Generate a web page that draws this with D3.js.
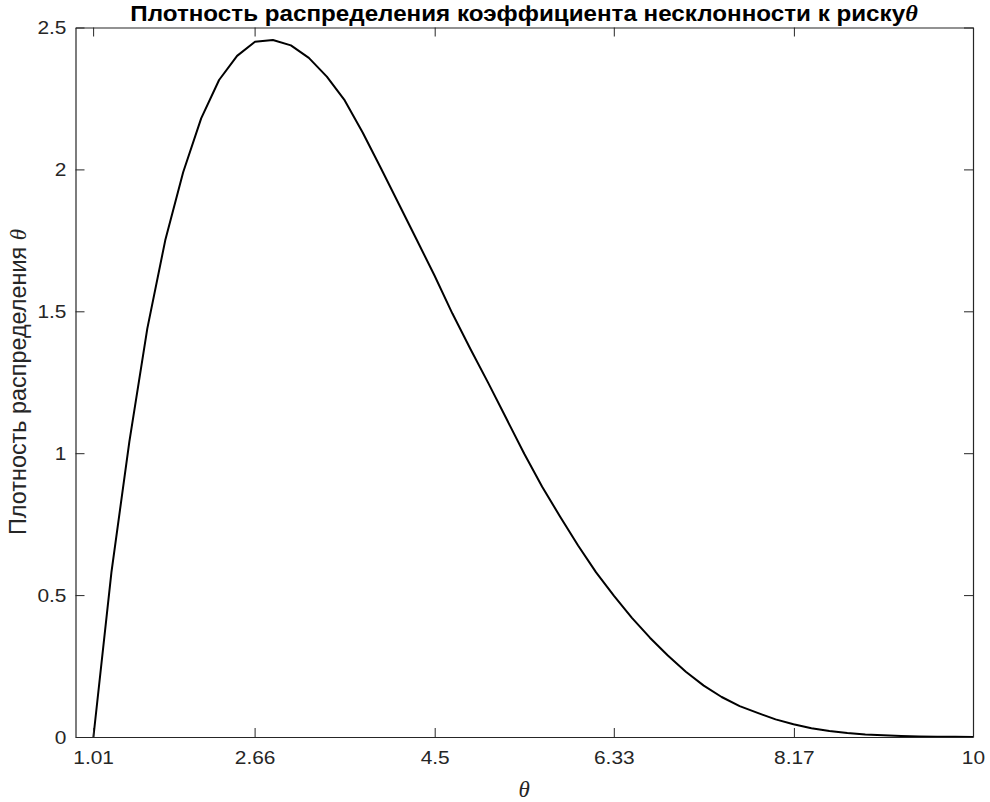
<!DOCTYPE html>
<html><head><meta charset="utf-8">
<script src="https://cdn.jsdelivr.net/npm/d3@7"></script>
<style>html,body{margin:0;padding:0;background:#fff;}svg{display:block;}</style>
</head><body>
<script>
const thetaValues = [1.013,1.197,1.380,1.564,1.747,1.930,2.114,2.297,2.481,2.664,
  2.847,3.031,3.214,3.398,3.581,3.764,3.948,4.131,4.315,4.498,
  4.681,4.865,5.048,5.232,5.415,5.598,5.782,5.965,6.149,6.332,
  6.515,6.699,6.882,7.066,7.249,7.432,7.616,7.799,7.983,8.166,
  8.349,8.533,8.716,8.900,9.083,9.266,9.450,9.633,9.817,10.000];
const densityValues = [0,0.58,1.04,1.44,1.75,1.99,2.18,2.315,2.40,2.45,
  2.456,2.437,2.393,2.327,2.243,2.13,2.006,1.880,1.753,1.626,
  1.492,1.367,1.247,1.122,0.998,0.882,0.776,0.675,0.580,0.497,
  0.420,0.350,0.287,0.230,0.181,0.141,0.109,0.085,0.062,0.045,
  0.031,0.021,0.014,0.009,0.006,0.0035,0.002,0.001,0.0006,0.0003];
const xTickValues = [1.01,2.66,4.5,6.33,8.17,10];
const xTickLabels = ["1.01","2.66","4.5","6.33","8.17","10"];
const yTickValues = [0,0.5,1,1.5,2,2.5];
const yTickLabels = ["0","0.5","1","1.5","2","2.5"];
const xDomain = [0.83,10];
const yDomain = [0,2.5];
const titleText = "Плотность распределения коэффициента несклонности к риску";
const yLabelText = "Плотность распределения ";
const thetaSym = "θ";

const W=990,H=802;
const L=75.5,R=973,T=27.5,B=737;
const axisColor="#262626";
const svg=d3.select("body").append("svg").attr("width",W).attr("height",H);
const x=d3.scaleLinear().domain(xDomain).range([L,R]);
const y=d3.scaleLinear().domain(yDomain).range([B,T]);
const font="Arial, 'Liberation Sans', Helvetica, sans-serif";
const serif="'Liberation Serif','Times New Roman',serif";
const tl=9, sx=1.1;

// line
const line=d3.line().x((d,i)=>x(thetaValues[i])).y(d=>y(d));
svg.append("path").datum(densityValues).attr("d",line)
  .attr("fill","none").attr("stroke","#000").attr("stroke-width",2).attr("stroke-linejoin","round");

// axes
const xb=svg.append("g").attr("transform",`translate(0,${B})`)
  .call(d3.axisBottom(x).tickValues(xTickValues).tickFormat((d,i)=>xTickLabels[i]).tickSizeInner(-tl).tickSizeOuter(0).tickPadding(14));
const xt=svg.append("g").attr("transform",`translate(0,${T})`)
  .call(d3.axisTop(x).tickValues(xTickValues).tickFormat("").tickSizeInner(-tl).tickSizeOuter(0));
const yl=svg.append("g").attr("transform",`translate(${L},0)`)
  .call(d3.axisLeft(y).tickValues(yTickValues).tickFormat((d,i)=>yTickLabels[i]).tickSizeInner(-tl).tickSizeOuter(0).tickPadding(0));
const yr=svg.append("g").attr("transform",`translate(${R},0)`)
  .call(d3.axisRight(y).tickValues(yTickValues).tickFormat("").tickSizeInner(-tl).tickSizeOuter(0));
[xb,xt,yl,yr].forEach(g=>{
  g.selectAll("path.domain").attr("stroke",axisColor).attr("stroke-width",1.2);
  g.selectAll(".tick line").attr("stroke",axisColor).attr("stroke-width",1);
  g.selectAll("text").attr("fill",axisColor).style("font-family",font).style("font-size","19px");
});
xb.selectAll("text").attr("dy","0.71em").attr("transform",`scale(${sx},1)`);
yl.selectAll("text").attr("x",0).attr("transform",`translate(-9,0) scale(${sx},1)`);

// title
const title=svg.append("text").attr("x",0).attr("y",0).attr("text-anchor","middle")
  .style("font-family",font).style("font-weight","bold").style("font-size","22.5px").attr("fill","#000");
title.append("tspan").text(titleText);
title.append("tspan").text(thetaSym).style("font-style","italic").style("font-family",serif);
const tw=title.node().getBBox().width;
title.attr("transform",`translate(${(130+918)/2},21) scale(${788/tw},1)`);

// y label
const ylab=svg.append("text").attr("transform",`translate(26,${382}) rotate(-90)`)
  .attr("text-anchor","middle").style("font-family",font).style("font-size","22px").attr("fill",axisColor);
ylab.append("tspan").text(yLabelText);
ylab.append("tspan").text(thetaSym).style("font-style","italic").style("font-family",serif).style("font-size","23px");
const yw=ylab.node().getBBox().width;
ylab.style("font-size",(22*307/yw)+"px");

// x label
svg.append("text").attr("x",(L+R)/2).attr("y",797).attr("text-anchor","middle")
  .style("font-family",serif).style("font-style","italic").style("font-size","23px")
  .attr("fill",axisColor).text(thetaSym);
</script>
</body></html>
